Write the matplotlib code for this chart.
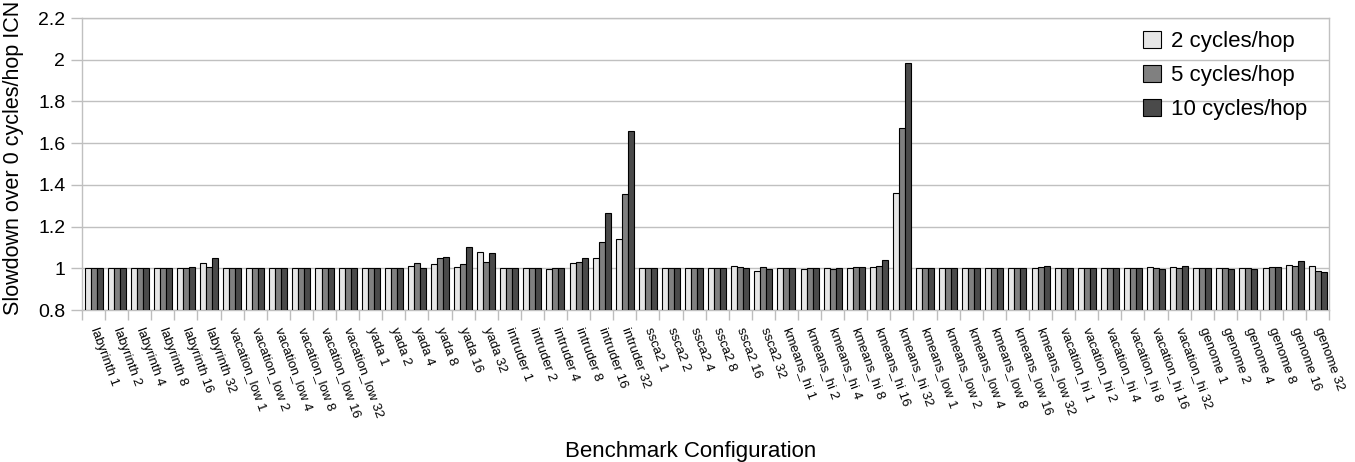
import numpy as np
import matplotlib
matplotlib.use('Agg')
import matplotlib.pyplot as plt
from matplotlib.ticker import FormatStrFormatter

plt.rcParams['font.family'] = ['Liberation Sans', 'DejaVu Sans']

benchmarks = ['labyrinth', 'vacation_low', 'yada', 'intruder', 'ssca2',
              'kmeans_hi', 'kmeans_low', 'vacation_hi', 'genome']
threads = [1, 2, 4, 8, 16, 32]
labels = [f'{b} {t}' for b in benchmarks for t in threads]

# slowdown vs 0 cycles/hop, in label order
hop2 = [1.000, 1.000, 1.000, 1.000, 1.000, 1.023,
        1.000, 1.000, 1.000, 1.000, 1.003, 1.000,
        1.000, 1.000, 1.012, 1.020, 1.007, 1.076,
        1.000, 1.000, 0.995, 1.024, 1.050, 1.141,
        1.000, 1.000, 1.000, 1.000, 1.013, 0.989,
        1.000, 0.998, 1.001, 1.002, 1.006, 1.361,
        1.000, 1.000, 1.000, 1.000, 1.000, 1.003,
        1.000, 1.000, 1.000, 1.000, 1.008, 1.008,
        1.000, 1.000, 1.000, 1.000, 1.018, 1.011]
hop5 = [1.000, 1.000, 1.000, 1.002, 1.003, 1.008,
        1.000, 1.000, 1.000, 1.000, 1.000, 1.000,
        1.000, 1.000, 1.027, 1.048, 1.019, 1.030,
        1.000, 1.000, 1.000, 1.032, 1.126, 1.356,
        1.000, 1.000, 1.000, 1.000, 1.008, 1.008,
        1.000, 1.000, 0.997, 1.005, 1.013, 1.673,
        1.000, 1.000, 1.000, 1.000, 1.003, 1.008,
        1.000, 1.000, 0.999, 1.003, 1.003, 1.003,
        1.000, 1.000, 1.003, 1.006, 1.013, 0.989]
hop10 = [1.000, 1.000, 1.000, 1.003, 1.008, 1.047,
         1.000, 1.000, 1.000, 1.000, 1.000, 1.000,
         1.000, 1.000, 1.002, 1.055, 1.103, 1.073,
         1.000, 1.000, 1.003, 1.051, 1.266, 1.657,
         1.000, 1.000, 1.000, 1.000, 1.003, 0.997,
         1.000, 1.000, 1.000, 1.006, 1.040, 1.982,
         1.000, 1.000, 1.000, 1.000, 1.003, 1.013,
         1.000, 1.000, 0.999, 1.003, 0.998, 1.011,
         1.000, 0.997, 0.998, 1.008, 1.037, 0.984]

series = [('2 cycles/hop', hop2, '#e6e6e6'),
          ('5 cycles/hop', hop5, '#808080'),
          ('10 cycles/hop', hop10, '#4a4a4a')]

fig = plt.figure(figsize=(13.55, 4.62), dpi=100)
ax = fig.add_axes([0.0605, 0.329, 0.9205, 0.632])

x = np.arange(len(labels))
w = 0.26
base = 0.8
for i, (name, vals, col) in enumerate(series):
    h = np.array(vals) - base
    ax.bar(x + (i - 1) * w, h, w, bottom=base, color=col, edgecolor='black',
           linewidth=0.8, label=name, zorder=3)

ax.set_xlim(-0.5, len(labels) - 0.5)
ax.set_ylim(0.8, 2.2)
ax.set_yticks(np.arange(0.8, 2.21, 0.2))
ax.yaxis.set_major_formatter(FormatStrFormatter('%g'))
ax.grid(axis='y', color='#c0c0c0', linewidth=1, zorder=0)

ax.set_xticks(x)
ax.set_xticklabels(labels, rotation=-70, ha='left', va='center',
                   rotation_mode='anchor', fontsize=9.5)
ax.set_xticks(np.arange(-0.5, len(labels)), minor=True)
ax.tick_params(axis='x', which='major', length=0, pad=13)
ax.tick_params(axis='x', which='minor', length=7, color='#bdbdbd', width=1)
ax.tick_params(axis='y', length=8, color='#bdbdbd', width=1, labelsize=14, pad=4)

for s in ax.spines.values():
    s.set_color('#c0c0c0')
    s.set_linewidth(1)

fig.text(14 / 1355, 1 - 158 / 462, 'Slowdown over 0 cycles/hop ICN',
         rotation=90, ha='center', va='center', fontsize=15.5)
fig.text(691 / 1355, 1 - 452 / 462, 'Benchmark Configuration',
         ha='center', va='center', fontsize=16)

ax.legend(loc='upper left', frameon=False, fontsize=16, handlelength=0.8,
          handleheight=0.8, handletextpad=0.45, labelspacing=0.58,
          borderpad=0, borderaxespad=0,
          bbox_to_anchor=(1143 / 1355, 1 - 31 / 462), bbox_transform=fig.transFigure)

fig.savefig('out.png', dpi=100, facecolor='white')
